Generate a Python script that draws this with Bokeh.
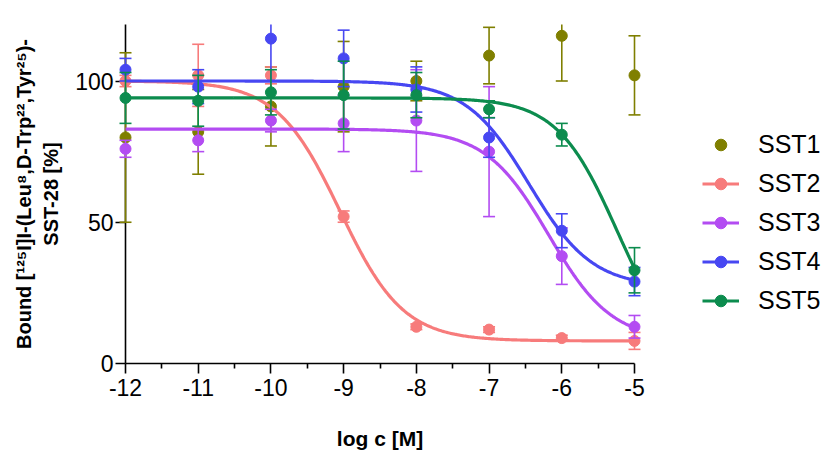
import numpy as np
from bokeh.plotting import figure
from bokeh.models import Range1d, FixedTicker, Legend, LegendItem
from bokeh.embed import file_html
from bokeh.resources import INLINE

# ---- data ----
log_c = [-12, -11, -10, -9, -8, -7, -6, -5]
x_ticks = [-12, -11, -10, -9, -8, -7, -6, -5]
x_tick_labels = ["-12", "-11", "-10", "-9", "-8", "-7", "-6", "-5"]
y_ticks = [0, 50, 100]
y_tick_labels = ["0", "50", "100"]
series_names = ["SST1", "SST2", "SST3", "SST4", "SST5"]

sst1_mean = [80, 82, 91, 98, 100, 109, 116, 102]
sst1_err = [30, 15, 14, 16, 7, 10, 16, 14]
sst2_mean = [100, 102, 102, 52, 13, 12, 9, 8]
sst2_err = [2, 11, 3, 2, 1, 1, 1, 3]
sst3_mean = [76, 79, 86, 85, 86, 75, 38, 13]
sst3_err = [3, 4, 4, 10, 18, 23, 10, 4]
sst4_mean = [104, 98, 115, 108, 97, 80, 47, 29]
sst4_err = [4, 6, 15, 10, 8, 7, 6, 5]
sst5_mean = [94, 93, 96, 95, 95, 90, 81, 33]
sst5_err = [9, 9, 8, 12, 8, 3, 4, 8]

# fitted one-site competition curves (SST1: no fit)
fit_top = [None, 100, 83, 100, 94]
fit_bottom = [None, 8, 8, 27, 0]
fit_logic50 = [None, -9.05, -6.18, -6.45, -5.24]
fit_hill = [None, 1.0, 1.0, 1.0, 1.05]

colors = ["#7f7f00", "#f77b7b", "#b34cf2", "#4747f2", "#0c8c4e"]

X_MIN, X_MAX = -12, -5
Y_MIN, Y_MAX = 0, 120

FONT = "Liberation Sans"

p = figure(frame_width=509, frame_height=339,
           min_border_left=125, min_border_right=190,
           min_border_top=24, min_border_bottom=92,
           x_range=Range1d(X_MIN, X_MAX), y_range=Range1d(Y_MIN, Y_MAX),
           output_backend="svg", toolbar_location=None)

p.outline_line_color = None
p.grid.grid_line_color = None

means = [sst1_mean, sst2_mean, sst3_mean, sst4_mean, sst5_mean]
errs = [sst1_err, sst2_err, sst3_err, sst4_err, sst5_err]

legend_items = []
for i, name in enumerate(series_names):
    c = colors[i]
    m = np.array(means[i], dtype=float)
    e = np.array(errs[i], dtype=float)
    x = np.array(log_c, dtype=float)
    hi = m + e
    lo = m - e
    hi_c = np.minimum(hi, Y_MAX)
    lo_c = np.maximum(lo, Y_MIN)
    r_seg = p.segment(x0=x, y0=lo_c, x1=x, y1=hi_c, line_color=c, line_width=1.6)
    keep_hi = hi <= Y_MAX
    r_cap1 = p.scatter(x=x[keep_hi], y=hi[keep_hi], marker="dash", size=12,
                       line_color=c, line_width=1.6)
    r_cap2 = p.scatter(x=x, y=lo, marker="dash", size=12, line_color=c, line_width=1.6)
    rends = []
    if fit_top[i] is not None:
        xx = np.linspace(X_MIN, X_MAX, 400)
        yy = fit_bottom[i] + (fit_top[i] - fit_bottom[i]) / (
            1 + 10 ** (fit_hill[i] * (xx - fit_logic50[i])))
        r_line = p.line(xx, yy, line_color=c, line_width=3.2)
        rends.append(r_line)
    r_pts = p.scatter(x=x, y=m, size=11, fill_color=c, line_color=c)
    rends.append(r_pts)
    for r in [r_seg, r_cap1, r_cap2] + rends:
        r.level = "overlay"
    legend_items.append(LegendItem(label=name, renderers=rends))

legend = Legend(items=legend_items, location=(68, 48),
                glyph_width=37, glyph_height=29, label_height=29, spacing=10,
                label_standoff=19, padding=0, margin=0,
                border_line_color=None, background_fill_alpha=0,
                label_text_font=FONT, label_text_font_size="25px",
                label_text_color="black")
p.add_layout(legend, "right")

# axes
for ax in [p.xaxis[0], p.yaxis[0]]:
    ax.axis_line_width = 1.6
    ax.axis_line_color = "black"
    ax.major_tick_line_width = 1.6
    ax.minor_tick_line_width = 1.6
    ax.major_tick_in = 0
    ax.minor_tick_in = 0
    ax.major_tick_out = 10
    ax.major_label_text_font = FONT
    ax.major_label_text_font_size = "23px"
    ax.major_label_text_color = "black"
    ax.axis_label_text_font = FONT
    ax.axis_label_text_font_style = "bold"
    ax.axis_label_text_color = "black"

p.xaxis.ticker = FixedTicker(ticks=x_ticks,
                             minor_ticks=[t + 0.5 for t in x_ticks[:-1]])
p.xaxis.major_label_overrides = dict(zip(x_ticks, x_tick_labels))
p.xaxis.minor_tick_out = 5
p.xaxis.major_label_standoff = 5
p.xaxis.axis_label = "log c [M]"
p.xaxis.axis_label_text_font_size = "21px"
p.xaxis.axis_label_standoff = 28

p.yaxis.ticker = FixedTicker(ticks=y_ticks, minor_ticks=[])
p.yaxis.major_label_overrides = dict(zip(y_ticks, y_tick_labels))
p.yaxis.minor_tick_line_color = None
p.yaxis.major_label_standoff = 2
p.yaxis.axis_label = "Bound [\u00b9\u00b2\u2075I]I-(Leu\u2078,D-Trp\u00b2\u00b2,Tyr\u00b2\u2075)-\nSST-28 [%]"
p.yaxis.axis_label_text_font_size = "20px"
p.yaxis.axis_label_standoff = 10
p.yaxis.axis_label_text_line_height = 1.25

open("out.html", "w").write(file_html(p, INLINE))
